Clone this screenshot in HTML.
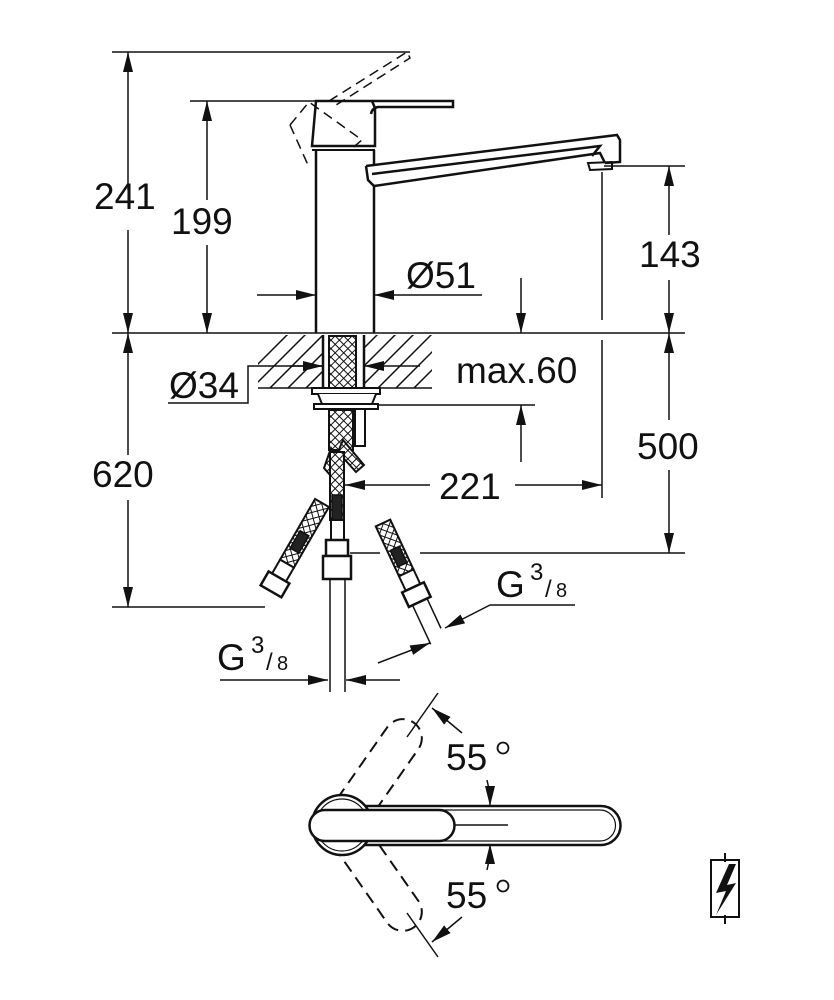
<!DOCTYPE html>
<html><head><meta charset="utf-8"><style>
html,body{margin:0;padding:0;background:#fff;}
svg{display:block;}
text{font-family:"Liberation Sans",Arial,sans-serif;fill:#111;}
</style></head><body>
<svg width="834" height="1000" viewBox="0 0 834 1000" xmlns="http://www.w3.org/2000/svg">
<defs>
<marker id="a" viewBox="0 0 20 10" refX="20" refY="5" markerWidth="20" markerHeight="10" markerUnits="userSpaceOnUse" orient="auto"><path d="M0,0 L20,5 L0,10 Z" fill="#111"/></marker>
<pattern id="h" width="6" height="6" patternUnits="userSpaceOnUse" patternTransform="rotate(45)"><rect width="6" height="6" fill="#fff"/><path d="M0,0H6M0,0V6" stroke="#111" stroke-width="2"/></pattern>
<clipPath id="ct"><path d="M258,335H323V388H258Z M364,335H432V388H364Z"/></clipPath>
</defs>
<g stroke="#111" stroke-width="1.5" fill="none">
<line x1="112" y1="52" x2="410" y2="52"/>
<line x1="128" y1="190" x2="128" y2="52" marker-end="url(#a)"/>
<line x1="128" y1="230" x2="128" y2="333" marker-end="url(#a)"/>
<line x1="190" y1="101" x2="316" y2="101"/>
<line x1="207" y1="200" x2="207" y2="101" marker-end="url(#a)"/>
<line x1="207" y1="245" x2="207" y2="333" marker-end="url(#a)"/>
<line x1="112" y1="333" x2="685" y2="333"/>
<path d="M316,150 V333 M374,150 V333" stroke-width="2.5"/>
<path d="M316,101 L372,101 L375,108 L375,146 L312,146 Z" stroke-width="2.5" fill="#fff"/>
<path d="M372,101 H453 V107 H378 Q372,108 371,114" stroke-width="2.5"/>
<line x1="312" y1="150" x2="375" y2="150" stroke-width="2"/>
<path d="M329,101 L407,52 L410,58 L333,107" stroke-dasharray="10,6"/>
<path d="M290,125 L309,102 L362,140 L350,150 M290,125 L308,165" stroke-dasharray="10,6"/>
<path d="M366,166 L617,135 L620,140 L620,162 L605,163 M366,166 L368,180 L374,186 L600,153 L605,163 M372,174 L600,146 L592,156" stroke-width="2.5" fill="#fff"/>
<path d="M588,163 L612,162 L612,169 L590,170 Z" stroke-width="2"/>
<line x1="604" y1="166" x2="685" y2="166"/>
<line x1="602" y1="172" x2="602" y2="320"/>
<line x1="669" y1="235" x2="669" y2="166" marker-end="url(#a)"/>
<line x1="669" y1="280" x2="669" y2="333" marker-end="url(#a)"/>
<line x1="669" y1="420" x2="669" y2="333" marker-end="url(#a)"/>
<line x1="669" y1="470" x2="669" y2="553" marker-end="url(#a)"/>
<line x1="420" y1="553" x2="685" y2="553"/>
<line x1="350" y1="553" x2="380" y2="553"/>
<line x1="602" y1="340" x2="602" y2="498"/>
<line x1="257" y1="295" x2="316" y2="295" marker-end="url(#a)"/>
<line x1="482" y1="295" x2="374" y2="295" marker-end="url(#a)"/>
<line x1="521" y1="278" x2="521" y2="333" marker-end="url(#a)"/>
<g clip-path="url(#ct)" stroke-width="1.5">
<path d="M240,400 L320,320 M258,400 L338,320 M276,400 L356,320 M294,400 L374,320 M312,400 L392,320 M330,400 L410,320 M348,400 L428,320 M366,400 L446,320 M384,400 L464,320 M402,400 L482,320 M420,400 L500,320 M222,400 L302,320"/>
</g>
<line x1="258" y1="388" x2="432" y2="388"/>
<path d="M323,335 V388 M364,335 V388" stroke-width="2.5"/>
<path d="M168,403 H248 V366 H323" />
<line x1="290" y1="366" x2="323" y2="366" marker-end="url(#a)"/>
<line x1="420" y1="366" x2="364" y2="366" marker-end="url(#a)"/>
<rect x="312" y="388" width="68" height="6" stroke-width="2" fill="#fff"/>
<path d="M318,394 L322,404 H372 L376,394" stroke-width="2" fill="#fff"/>
<rect x="314" y="404" width="64" height="5" stroke-width="2" fill="#fff"/>
<line x1="378" y1="405" x2="535" y2="405"/>
<line x1="521" y1="462" x2="521" y2="405" marker-end="url(#a)"/>
<rect x="355" y="409" width="10" height="37" stroke-width="2" fill="#fff"/>
<rect x="329" y="336" width="27" height="52" fill="url(#h)" stroke-width="2"/>
<rect x="329" y="410" width="24" height="40" fill="url(#h)" stroke-width="2"/>
<path d="M343,440 L364,465 L356,472 L338,452 Z" fill="url(#h)" stroke-width="2"/>
<path d="M331,448 L340,460 L330,475 L324,468 Z" fill="url(#h)" stroke-width="2"/>
<rect x="330" y="452" width="14" height="68" fill="url(#h)" stroke-width="2"/>
<rect x="332" y="495" width="10" height="25" fill="#222"/>
<rect x="331" y="520" width="13" height="20" stroke-width="2" fill="#fff"/>
<rect x="326" y="540" width="22" height="16" stroke-width="2.5" fill="#fff"/>
<rect x="323" y="556" width="28" height="23" stroke-width="2.5" fill="#fff"/>
<path d="M330,579 V692 M345,579 V692" stroke-width="1.5"/>
<line x1="430" y1="485" x2="345" y2="485" marker-end="url(#a)"/>
<line x1="515" y1="485" x2="602" y2="485" marker-end="url(#a)"/>
<line x1="128" y1="455" x2="128" y2="333" marker-end="url(#a)"/>
<line x1="128" y1="500" x2="128" y2="607" marker-end="url(#a)"/>
<line x1="112" y1="607" x2="265" y2="607"/>
<g transform="translate(322,503) rotate(30)">
<rect x="-8" y="0" width="16" height="70" fill="url(#h)" stroke-width="2"/>
<rect x="-5" y="35" width="10" height="20" fill="#222"/>
<rect x="-8" y="70" width="16" height="16" stroke-width="2" fill="#fff"/>
<rect x="-12" y="86" width="24" height="16" stroke-width="2.5" fill="#fff"/>
</g>
<g transform="translate(383,523) rotate(-25)">
<rect x="-8" y="0" width="16" height="55" fill="url(#h)" stroke-width="2"/>
<rect x="-5" y="28" width="10" height="18" fill="#222"/>
<rect x="-8" y="55" width="16" height="16" stroke-width="2" fill="#fff"/>
<rect x="-12" y="71" width="24" height="16" stroke-width="2.5" fill="#fff"/>
<path d="M-8,87 V130 M8,87 V120" stroke-width="1.5"/>
</g>
<path d="M575,605 H490" />
<line x1="490" y1="605" x2="445" y2="628" marker-end="url(#a)"/>
<line x1="378" y1="663" x2="430" y2="643" marker-end="url(#a)"/>
<line x1="220" y1="680" x2="328" y2="680" marker-end="url(#a)"/>
<line x1="400" y1="680" x2="346" y2="680" marker-end="url(#a)"/>
<g transform="rotate(-55 342 825)" stroke-dasharray="12,7" stroke-width="2">
<rect x="342" y="806" width="125" height="38" rx="19"/>
</g>
<g transform="rotate(55 342 825)" stroke-dasharray="12,7" stroke-width="2">
<rect x="342" y="806" width="125" height="38" rx="19"/>
</g>
<path d="M360,806 H601 A19.5,19.5 0 0 1 601,845 H360" stroke-width="2.5" fill="#fff"/>
<path d="M365,810 H600 A15,15 0 0 1 600,841 H365" stroke-width="1.2"/>
<circle cx="342" cy="825" r="30" stroke-width="2.5" fill="#fff"/>
<circle cx="342" cy="825" r="26" stroke-width="1.2"/>
<path d="M325,810 H439 A15.5,15.5 0 0 1 439,841 H325 A15.5,15.5 0 0 1 325,810 Z" stroke-width="2.5" fill="#fff"/>
<line x1="455" y1="825" x2="508" y2="825"/>
<line x1="407" y1="737" x2="438" y2="693"/>
<line x1="407" y1="913" x2="438" y2="957"/>
<line x1="462" y1="733" x2="432" y2="708" marker-end="url(#a)"/>
<line x1="462" y1="917" x2="432" y2="942" marker-end="url(#a)"/>
<path d="M487,780 Q490,792 490,806" marker-end="url(#a)"/>
<path d="M487,870 Q490,858 490,844" marker-end="url(#a)"/>
<circle cx="503" cy="748" r="5.5" stroke-width="1.8"/>
<circle cx="503" cy="886" r="5.5" stroke-width="1.8"/>
<rect x="711" y="860" width="28" height="57" stroke-width="2"/>
<path d="M725,853 V862 M725,915 V924" stroke-width="2"/>
</g>
<path d="M729,864 L716,893 L726,891 L716,915 L736,883 L727,885 L736,864 Z" fill="#111"/>
<g font-size="37">
<text x="94" y="209">241</text>
<text x="171" y="234">199</text>
<text x="639" y="267">143</text>
<text x="406" y="288">Ø51</text>
<text x="169" y="398">Ø34</text>
<text x="456" y="383">max.60</text>
<text x="439" y="499">221</text>
<text x="637" y="459">500</text>
<text x="92" y="487">620</text>
<text x="446" y="770">55</text>
<text x="446" y="908">55</text>
<text x="496" y="597">G</text>
<text x="217" y="670">G</text>
</g>
<g font-size="24">
<text x="530" y="580">3</text>
<text x="251" y="653">3</text>
<text x="545" y="597">/</text>
<text x="266" y="670">/</text>
</g>
<g font-size="20">
<text x="556" y="597">8</text>
<text x="277" y="670">8</text>
</g>
</svg>
</body></html>
